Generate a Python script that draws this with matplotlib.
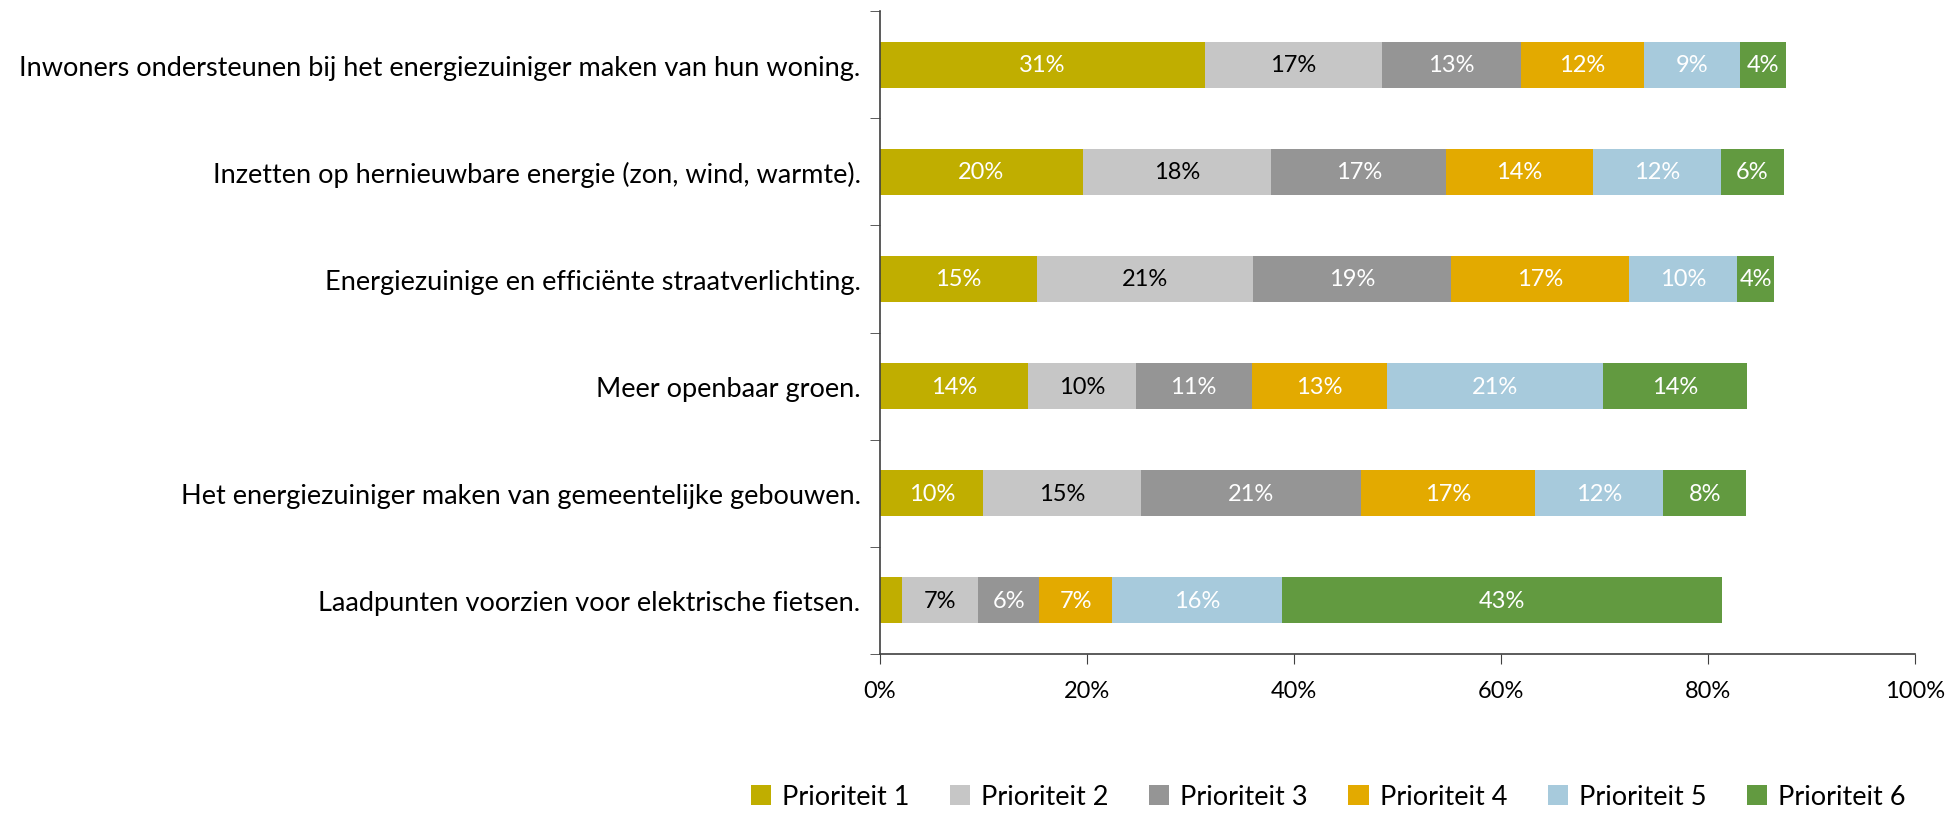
import matplotlib
matplotlib.use("Agg")
import matplotlib.pyplot as plt
import numpy as np

plt.rcParams['font.family'] = ['Lato', 'DejaVu Sans']

categories = [
    "Inwoners ondersteunen bij het energiezuiniger maken van hun woning.",
    "Inzetten op hernieuwbare energie (zon, wind, warmte).",
    "Energiezuinige en efficiënte straatverlichting.",
    "Meer openbaar groen.",
    "Het energiezuiniger maken van gemeentelijke gebouwen.",
    "Laadpunten voorzien voor elektrische fietsen.",
]
series_names = ["Prioriteit 1", "Prioriteit 2", "Prioriteit 3",
                "Prioriteit 4", "Prioriteit 5", "Prioriteit 6"]
p1 = [31.4, 19.6, 15.2, 14.3, 10.0, 2.1]
p2 = [17.1, 18.2, 20.8, 10.4, 15.2, 7.4]
p3 = [13.4, 16.9, 19.2, 11.2, 21.3, 5.9]
p4 = [11.9, 14.2, 17.2, 13.1, 16.8, 7.0]
p5 = [9.3, 12.4, 10.4, 20.9, 12.4, 16.4]
p6 = [4.4, 6.0, 3.6, 13.9, 8.0, 42.6]
xticks = [0, 20, 40, 60, 80, 100]

series = [p1, p2, p3, p4, p5, p6]
colors = ["#C0AE00", "#C6C6C6", "#959595", "#E3AA00", "#A7CADC", "#629A40"]
text_colors = ["white", "black", "white", "white", "white", "white"]

fig = plt.figure(figsize=(19.49, 8.29), dpi=100)
ax = fig.add_axes([880/1949, 1-655/829, (1915-880)/1949, (655-12)/829])

y = np.arange(len(categories))
left = np.zeros(len(categories))
for vals, name, c, tc in zip(series, series_names, colors, text_colors):
    vals = np.array(vals)
    ax.barh(y, vals, left=left, height=0.43, color=c, label=name, edgecolor='none')
    for yi, l, v in zip(y, left, vals):
        if v >= 3:
            ax.text(l + v/2, yi, f"{round(v)}%", ha='center', va='center',
                    color=tc, fontsize=17)
    left = left + vals

ax.set_xlim(0, 100)
ax.set_ylim(len(categories) - 0.5, -0.5)
ax.set_xticks(xticks)
ax.set_xticklabels([f"{t}%" for t in xticks], fontsize=17)
ax.set_yticks(y)
ax.set_yticklabels(categories, fontsize=19.5)
ax.tick_params(axis='y', length=0, pad=14)
ax.set_yticks(np.arange(-0.5, len(categories), 1.0), minor=True)
ax.tick_params(axis='y', which='minor', length=7, direction='out', color='#404040')
ax.tick_params(axis='x', length=7, direction='out', color='#404040', pad=12)
for s in ['top', 'right']:
    ax.spines[s].set_visible(False)
for s in ['left', 'bottom']:
    ax.spines[s].set_color('#404040')
    ax.spines[s].set_linewidth(1.2)

handles, labels = ax.get_legend_handles_labels()
fig.legend(handles, labels, ncol=6, loc='center right',
           bbox_to_anchor=(1930/1949, 1-798/829), frameon=False, fontsize=19.5,
           handlelength=0.75, handleheight=0.75, handletextpad=0.4, columnspacing=1.5)

fig.savefig("out.png", dpi=100)
